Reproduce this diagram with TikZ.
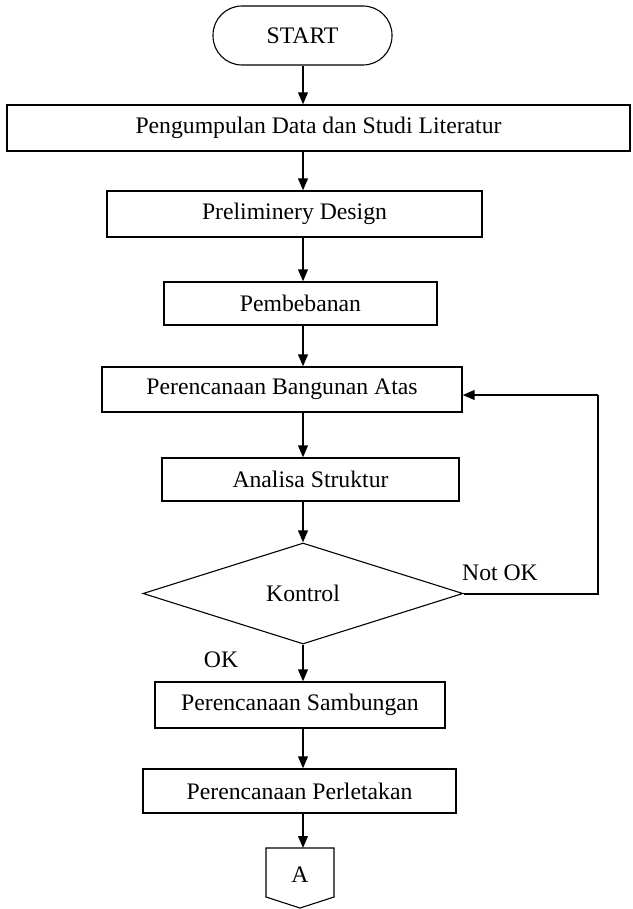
\documentclass[tikz,border=0pt]{standalone}
\usepackage{fontspec}
\setmainfont{Liberation Serif}
\usetikzlibrary{shapes.geometric,arrows.meta}
\begin{document}
\begin{tikzpicture}[x=1pt,y=-1pt,
  every node/.style={font=\fontsize{23.7}{28}\selectfont},
  procbox/.style={draw, line width=1.1pt, inner sep=0pt, align=center},
  arr/.style={line width=2.2pt, -{Triangle[length=12pt,width=9.5pt]}},
  fbline/.style={line width=2pt}]
\useasboundingbox (0,0) rectangle (632,909);
\node[procbox, rounded corners=29pt, minimum width=179pt, minimum height=59pt] (start) at (302.5,35.5) {START};
\node[procbox, minimum width=623pt, minimum height=46pt] (b1) at (318.5,128) {Pengumpulan Data dan Studi Literatur};
\node[procbox, minimum width=375pt, minimum height=46pt] (b2) at (294.5,214) {Preliminery Design};
\node[procbox, minimum width=273pt, minimum height=43pt] (b3) at (300.5,303.5) {Pembebanan};
\node[procbox, minimum width=360pt, minimum height=45pt] (b4) at (282,389.5) {Perencanaan Bangunan Atas};
\node[procbox, minimum width=297pt, minimum height=43pt] (b5) at (310.5,479.5) {Analisa Struktur};
\node[procbox, shape=diamond, aspect=3.17, minimum width=320pt, minimum height=101pt] (dia) at (303,593.5) {Kontrol};
\node[procbox, minimum width=290pt, minimum height=46pt] (b6) at (300,705) {Perencanaan Sambungan};
\node[procbox, minimum width=313pt, minimum height=44pt] (b7) at (299.5,791) {Perencanaan Perletakan};
\draw[line width=1.1pt] (266,848) -- (334,848) -- (334,897) -- (300,908) -- (266,897) -- cycle;
\node (A) at (300,875) {A};
\coordinate (Atop) at (303,848);
\node (notok) at (500,573) {Not OK};
\node (ok) at (221,660) {OK};
\coordinate (ax) at (303,0);
\coordinate (fb) at (598,395);
\draw[arr] (ax |- start.south) -- (ax |- b1.north);
\draw[arr] (ax |- b1.south) -- (ax |- b2.north);
\draw[arr] (ax |- b2.south) -- (ax |- b3.north);
\draw[arr] (ax |- b3.south) -- (ax |- b4.north);
\draw[arr] (ax |- b4.south) -- (ax |- b5.north);
\draw[arr] (ax |- b5.south) -- (dia.north);
\draw[arr] (dia.south) -- (ax |- b6.north);
\draw[arr] (ax |- b6.south) -- (ax |- b7.north);
\draw[arr] (ax |- b7.south) -- (Atop);
\draw[fbline] (dia.east) -| (fb);
\draw[arr] (fb) -- (b4.east |- fb);
\end{tikzpicture}
\end{document}
